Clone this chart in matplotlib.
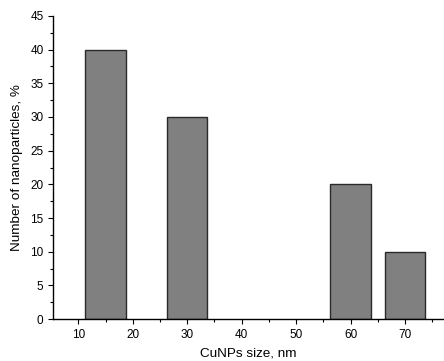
import matplotlib
matplotlib.use("Agg")
import matplotlib.pyplot as plt
from matplotlib.ticker import MultipleLocator

sizes = [15, 30, 60, 70]
percent = [40, 30, 20, 10]
bar_width = 7.4

plt.rcParams['font.family'] = ['Liberation Sans', 'DejaVu Sans']

fig = plt.figure(figsize=(4.44, 3.61), dpi=100)
ax = fig.add_axes([0.12, 0.116, 0.878, 0.84])
ax.bar(sizes, percent, bar_width, color='#808080', edgecolor='#2a2a2a', linewidth=1.0)

ax.set_xlim(5.4, 77)
ax.set_ylim(0, 45)
ax.set_xticks([10, 20, 30, 40, 50, 60, 70])
ax.set_yticks(range(0, 46, 5))
ax.xaxis.set_minor_locator(MultipleLocator(5))
ax.yaxis.set_minor_locator(MultipleLocator(2.5))
ax.tick_params(which='major', direction='out', length=3.5, width=0.8, labelsize=8.5)
ax.tick_params(which='minor', direction='out', length=2, width=0.8)
for s in ['top', 'right']:
    ax.spines[s].set_visible(False)
for s in ['left', 'bottom']:
    ax.spines[s].set_linewidth(1.0)

ax.set_xlabel('CuNPs size, nm', fontsize=9.7, labelpad=5)
ax.set_ylabel('Number of nanoparticles, %', fontsize=9.7, labelpad=5)

fig.savefig('out.png', dpi=100)
